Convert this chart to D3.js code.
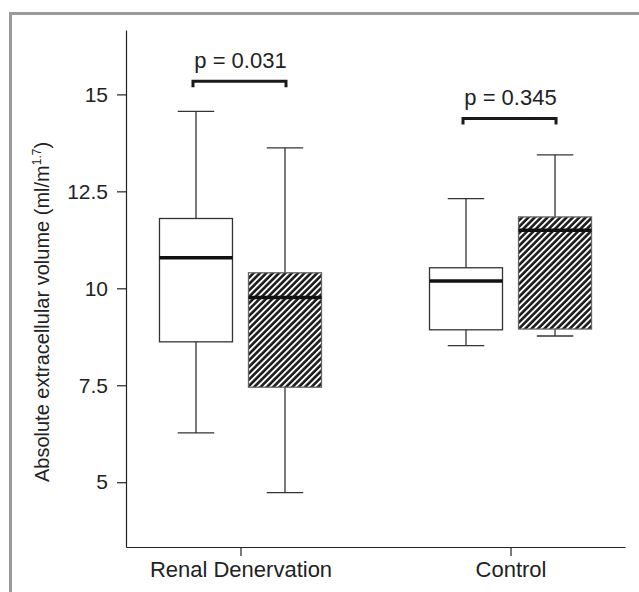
<!DOCTYPE html>
<html>
<head>
<meta charset="utf-8">
<script src="https://cdn.jsdelivr.net/npm/d3@7"></script>
<style>
  body { margin: 0; background: #fff; }
  svg { display: block; font-family: Arial, "Liberation Sans", Helvetica, sans-serif; }
  .axis path, .axis line { stroke: #222; stroke-width: 1.2; }
  .axis text { fill: #222; }
</style>
</head>
<body>
<svg id="chart" width="639" height="592"></svg>
<script>
// ============================================
// Boxplot: absolute extracellular volume by group
// ============================================

// Groups on the x axis and the two boxes inside each group
const groups = ["Renal Denervation", "Control"];
const series = ["baseline", "follow-up"];   // white box, hatched box

// Box statistics per group, [baseline, follow-up]
const whiskerLow  = [[6.27, 4.73], [8.52, 8.77]];
const quartile1   = [[8.62, 7.45], [8.93, 8.95]];
const medians     = [[10.79, 9.76], [10.19, 11.50]];
const quartile3   = [[11.80, 10.40], [10.53, 11.84]];
const whiskerHigh = [[14.56, 13.62], [12.31, 13.44]];

// Significance annotations
const pLabels = ["p = 0.031", "p = 0.345"];
const bracketLevel = [15.34, 14.38];

// Y axis ticks
const yTicks = [5, 7.5, 10, 12.5, 15];
const yTickLabels = ["5", "7.5", "10", "12.5", "15"];

const FONT = "Arial, 'Liberation Sans', Helvetica, sans-serif";
const svg = d3.select("#chart");

// Gray frame round the figure (runs off the right and bottom edge)
svg.append("rect")
    .attr("x", 10.5)
    .attr("y", 13.5)
    .attr("width", 700)
    .attr("height", 700)
    .attr("fill", "none")
    .attr("stroke", "#9a9a9a")
    .attr("stroke-width", 3);

// Hatch pattern: black with white diagonal stripes
const defs = svg.append("defs");
const hatch = defs.append("pattern")
    .attr("id", "hatch")
    .attr("patternUnits", "userSpaceOnUse")
    .attr("width", 4.5)
    .attr("height", 4.5)
    .attr("patternTransform", "rotate(45)");
hatch.append("rect")
    .attr("width", 4.5).attr("height", 4.5)
    .attr("fill", "#1a1a1a");
hatch.append("rect")
    .attr("x", 0).attr("width", 1.9).attr("height", 4.5)
    .attr("fill", "#fff");

// Scales
const x = d3.scalePoint()
    .domain(groups)
    .range([126, 625])
    .padding(0.424);

const xSub = d3.scaleBand()
    .domain(series)
    .range([-81, 81])
    .paddingInner(0.18);

const y = d3.scaleLinear()
    .domain([3.33, 16.66])
    .range([547, 30]);

// Axes
const yAxis = d3.axisLeft(y)
    .tickValues(yTicks)
    .tickFormat((d, i) => yTickLabels[i])
    .tickSize(9)
    .tickSizeOuter(0)
    .tickPadding(9);

svg.append("g")
    .attr("class", "axis")
    .attr("transform", "translate(126,0)")
    .call(yAxis)
    .attr("font-family", FONT)
    .attr("font-size", 21);

const xAxis = d3.axisBottom(x)
    .tickSize(9)
    .tickSizeOuter(0)
    .tickPadding(5);

svg.append("g")
    .attr("class", "axis")
    .attr("transform", "translate(0,547)")
    .call(xAxis)
    .attr("font-family", FONT)
    .attr("font-size", 22);

// Y axis title
const yTitle = svg.append("text")
    .attr("transform", "translate(49,312) rotate(-90)")
    .attr("text-anchor", "middle")
    .attr("fill", "#222")
    .attr("font-family", FONT)
    .style("font-size", "20px");
yTitle.append("tspan").text("Absolute extracellular volume (ml/m");
yTitle.append("tspan").attr("dy", -8).style("font-size", "12px").text("1.7");
yTitle.append("tspan").attr("dy", 8).text(")");

// Flatten box data
const boxes = [];
groups.forEach((g, gi) => {
    series.forEach((s, si) => {
        boxes.push({
            group: g, series: s,
            lo: whiskerLow[gi][si],
            q1: quartile1[gi][si],
            med: medians[gi][si],
            q3: quartile3[gi][si],
            hi: whiskerHigh[gi][si]
        });
    });
});

const bw = xSub.bandwidth();
const boxG = svg.append("g")
    .selectAll("g")
    .data(boxes)
    .enter()
    .append("g")
    .attr("transform", d => "translate(" + (x(d.group) + xSub(d.series)) + ",0)");

// Whisker stems
boxG.append("line")
    .attr("x1", bw / 2).attr("x2", bw / 2)
    .attr("y1", d => y(d.hi)).attr("y2", d => y(d.lo))
    .attr("stroke", "#333").attr("stroke-width", 1.3);

// Whisker caps
boxG.selectAll(".cap")
    .data(d => [d.lo, d.hi])
    .enter()
    .append("line")
    .attr("class", "cap")
    .attr("x1", bw / 4).attr("x2", bw * 3 / 4)
    .attr("y1", v => y(v)).attr("y2", v => y(v))
    .attr("stroke", "#333").attr("stroke-width", 1.3);

// Boxes
boxG.append("rect")
    .attr("x", 0)
    .attr("width", bw)
    .attr("y", d => y(d.q3))
    .attr("height", d => y(d.q1) - y(d.q3))
    .attr("fill", d => d.series === "baseline" ? "#fff" : "url(#hatch)")
    .attr("stroke", d => d.series === "baseline" ? "#333" : "#666")
    .attr("stroke-width", 1.3);

// Medians
boxG.append("line")
    .attr("x1", 0).attr("x2", bw)
    .attr("y1", d => y(d.med)).attr("y2", d => y(d.med))
    .attr("stroke", "#111").attr("stroke-width", 3.5);

// Significance brackets
const brackets = svg.append("g")
    .selectAll("g")
    .data(groups)
    .enter()
    .append("g");

brackets.append("path")
    .attr("d", (g, i) => {
        const x0 = x(g) + xSub(series[0]) + bw / 2 - 3;
        const x1 = x(g) + xSub(series[1]) + bw / 2 + 1;
        const yb = y(bracketLevel[i]);
        return "M" + x0 + "," + (yb + 6) + "V" + yb + "H" + x1 + "V" + (yb + 6);
    })
    .attr("fill", "none")
    .attr("stroke", "#1a1a1a")
    .attr("stroke-width", 3);

brackets.append("text")
    .attr("x", g => x(g))
    .attr("y", (g, i) => y(bracketLevel[i]) - 13)
    .attr("text-anchor", "middle")
    .attr("fill", "#222")
    .attr("font-family", FONT)
    .style("font-size", "22px")
    .text((g, i) => pLabels[i]);
</script>
</body>
</html>
